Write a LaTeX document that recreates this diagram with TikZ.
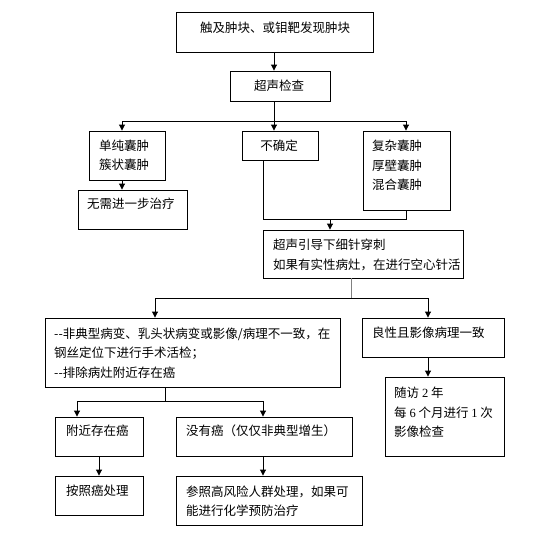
\documentclass[tikz,border=0pt]{standalone}
\usepackage{fontspec}
\setmainfont{Noto Sans CJK SC}
\newfontfamily\latinfont{Liberation Serif}
\usetikzlibrary{arrows.meta,fit}
\begin{document}
\begin{tikzpicture}[x=1pt,y=-1pt,
  box/.style={draw, line width=0.9pt, inner sep=0pt},
  txt/.style={inner sep=0pt, align=left, anchor=west, font=\fontsize{12.5pt}{19.5pt}\selectfont},
  ctxt/.style={txt, anchor=center},
  ln/.style={line width=0.9pt},
  arr/.style={line width=0.9pt, -{Triangle[width=6pt,length=6pt]}}]
\useasboundingbox (0,0) rectangle (543,536);
\fill[white] (0,0) rectangle (543,536);
% boxes
\node[box, fit={(176,12) (373,52)}] (b1) {};
\node[box, fit={(230,71) (330,101)}] (b2) {};
\node[box, fit={(89,131) (165,180)}] (b3) {};
\node[box, fit={(242,131) (318,160)}] (b4) {};
\node[box, fit={(363,131) (450,210)}] (b5) {};
\node[box, fit={(78,190) (187,229)}] (b6) {};
\node[box, fit={(263,230) (463,278)}] (b7) {};
\node[box, fit={(45,318) (340,387)}] (b8) {};
\node[box, fit={(362,318) (504,357)}] (b9) {};
\node[box, fit={(385,377) (504,456)}] (b10) {};
\node[box, fit={(55,417) (143,456)}] (b11) {};
\node[box, fit={(176,417) (352,456)}] (b12) {};
\node[box, fit={(55,476) (143,515)}] (b13) {};
\node[box, fit={(176,476) (362,525)}] (b14) {};
% texts
\node[ctxt] (t1) at (275,28) {触及肿块、或钼靶发现肿块};
\node[ctxt] (t2) at (279,86) {超声检查};
\node[txt] (t3) at (99,155.5) {单纯囊肿\\簇状囊肿};
\node[ctxt] (t4) at (279,146) {不确定};
\node[txt] (t5) at (372,165.5) {复杂囊肿\\厚壁囊肿\\混合囊肿};
\node[txt] (t6) at (87,204) {无需进一步治疗};
\node[txt] (t7) at (273,255) {超声引导下细针穿刺\\如果有实性病灶，在进行空心针活};
\node[txt] (t8) at (54,353) {-{}-非典型病变、乳头状病变或影像/病理不一致，在\\钢丝定位下进行手术活检；\\-{}-排除病灶附近存在癌};
\node[txt] (t9) at (372,333) {良性且影像病理一致};
\node[txt] (t10) at (394,412.5) {随访 {\latinfont 2} 年\\每 {\latinfont 6} 个月进行 {\latinfont 1} 次\\影像检查};
\node[txt] (t11) at (66,431) {附近存在癌};
\node[txt] (t12) at (186,431) {没有癌（仅仅非典型增生）};
\node[txt] (t13) at (66,491) {按照癌处理};
\node[txt] (t14) at (186,501) {参照高风险人群处理，如果可\\能进行化学预防治疗};
% junctions
\coordinate (j1) at (274,121);
\coordinate (j1l) at (122,121);
\coordinate (j1r) at (406,121);
\coordinate (j2) at (330,219);
\coordinate (j2l) at (263,219);
\coordinate (j2r) at (406,219);
\coordinate (j3) at (351,298);
\coordinate (j3l) at (155,298);
\coordinate (j3r) at (428,298);
\coordinate (j4) at (165,401);
\coordinate (j4l) at (77,401);
\coordinate (j4r) at (263,401);
\coordinate (k1) at (99,466);
\coordinate (k2) at (263,466);
% connectors
\draw[arr] (b1.south -| j1) -- (j1 |- b2.north);
\draw[ln] (b2.south -| j1) -- (j1);
\draw[ln] (j1l) -- (j1r);
\draw[arr] (j1l) -- (j1l |- b3.north);
\draw[arr] (j1) -- (j1 |- b4.north);
\draw[arr] (j1r) -- (j1r |- b5.north);
\draw[arr] (b3.south -| j1l) -- (j1l |- b6.north);
\draw[ln] (b4.south -| j2l) -- (j2l) -- (j2r) -- (b5.south -| j2r);
\draw[arr] (j2) -- (j2 |- b7.north);
\draw[ln, draw=gray] (b7.south -| j3) -- (j3);
\draw[ln] (j3l) -- (j3r);
\draw[arr] (j3l) -- (j3l |- b8.north);
\draw[arr] (j3r) -- (j3r |- b9.north);
\draw[arr] (b9.south -| j3r) -- (j3r |- b10.north);
\draw[ln] (b8.south -| j4) -- (j4);
\draw[ln] (j4l) -- (j4r);
\draw[arr] (j4l) -- (j4l |- b11.north);
\draw[arr] (j4r) -- (j4r |- b12.north);
\draw[arr] (b11.south -| k1) -- (k1 |- b13.north);
\draw[arr] (b12.south -| k2) -- (k2 |- b14.north);
\end{tikzpicture}
\end{document}
